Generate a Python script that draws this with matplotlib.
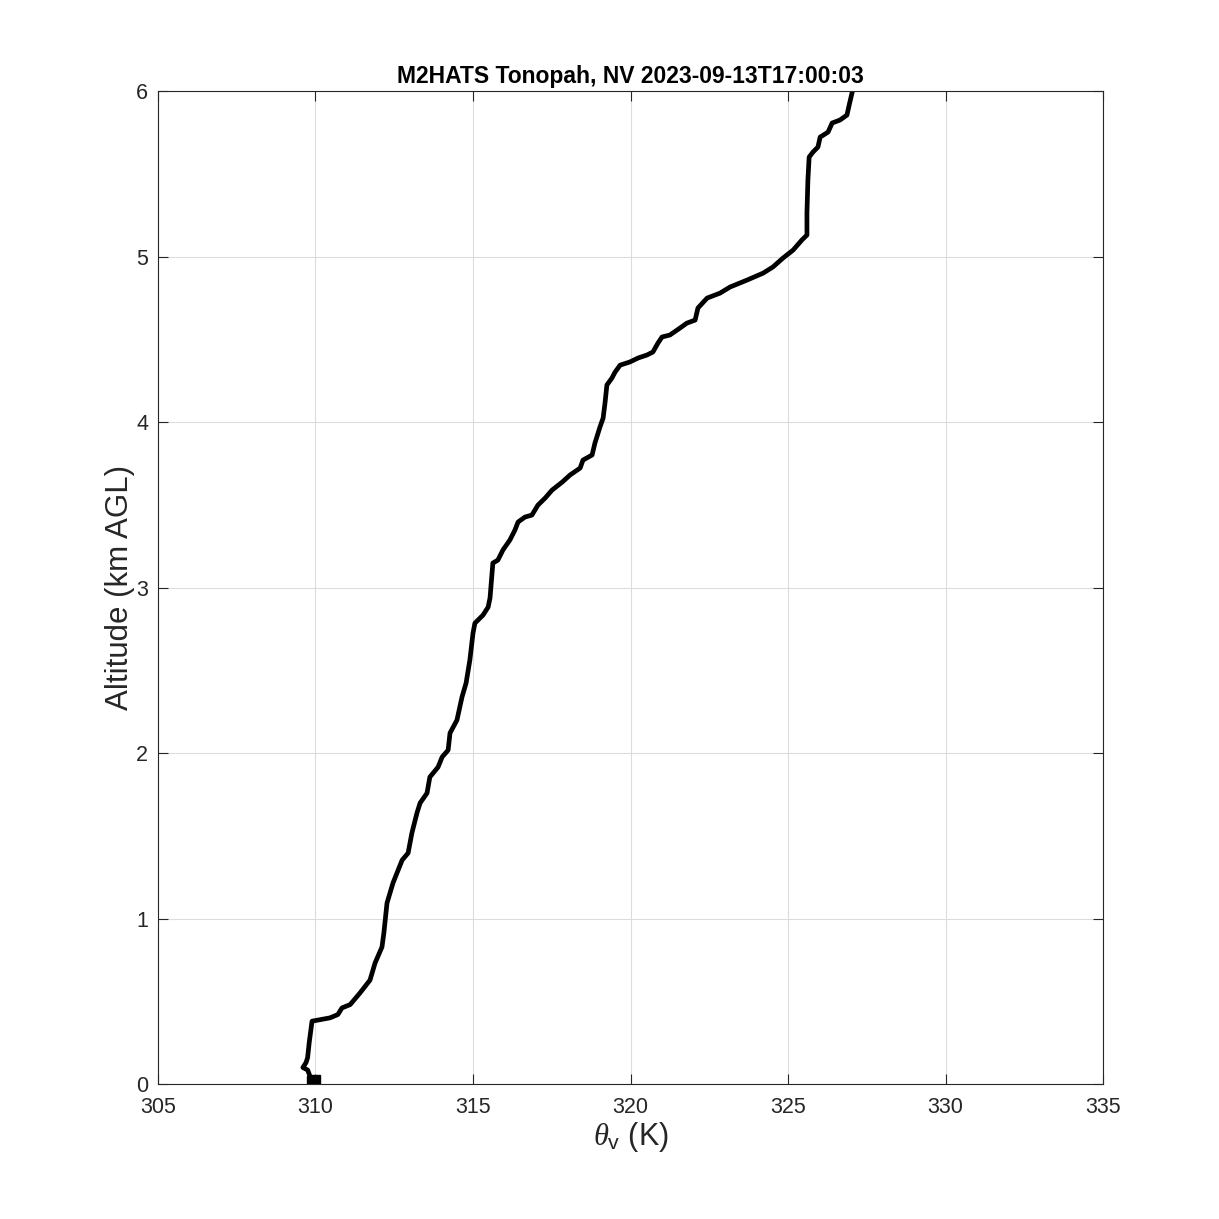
import matplotlib
matplotlib.use("Agg")
import matplotlib.pyplot as plt
import numpy as np

theta_v = [309.95, 309.85, 309.8, 309.75, 309.6, 309.7, 309.75, 309.8, 309.89, 310.46, 310.71, 310.84,
           311.10, 311.41, 311.73, 311.89, 312.11, 312.17, 312.27, 312.46, 312.75, 312.94, 313.06,
           313.22, 313.32, 313.54, 313.63, 313.89, 314.02, 314.21, 314.27, 314.49, 314.65, 314.78,
           314.90, 315.0, 315.06, 315.32, 315.48, 315.54, 315.63, 315.79, 315.95, 316.17, 316.33,
           316.43, 316.65, 316.87, 317.06, 317.29, 317.51, 317.83, 318.08, 318.40, 318.49, 318.78,
           318.87, 319.03, 319.13, 319.19, 319.25, 319.41, 319.51, 319.67, 319.98, 320.24, 320.52,
           320.71, 320.87, 321.0, 321.25, 321.57, 321.79, 322.05, 322.14, 322.43, 322.84, 323.16,
           323.70, 324.21, 324.52, 324.84, 325.16, 325.44, 325.60, 325.60, 325.63, 325.67, 325.79,
           325.95, 326.02, 326.27, 326.40, 326.65, 326.87, 326.94, 327.03, 327.06]
altitude = [0.0, 0.03, 0.06, 0.085, 0.10, 0.13, 0.16, 0.25, 0.38, 0.40, 0.42, 0.46,
            0.48, 0.55, 0.628, 0.731, 0.828, 0.912, 1.094, 1.215, 1.353, 1.396, 1.517,
            1.637, 1.698, 1.758, 1.855, 1.915, 1.976, 2.018, 2.121, 2.199, 2.338, 2.423,
            2.562, 2.725, 2.785, 2.834, 2.882, 2.937, 3.148, 3.166, 3.227, 3.287, 3.347,
            3.396, 3.426, 3.438, 3.498, 3.541, 3.589, 3.637, 3.680, 3.722, 3.770, 3.801,
            3.873, 3.970, 4.024, 4.115, 4.224, 4.266, 4.302, 4.344, 4.363, 4.387, 4.405,
            4.423, 4.477, 4.514, 4.526, 4.568, 4.598, 4.616, 4.689, 4.749, 4.779, 4.816,
            4.858, 4.900, 4.937, 4.991, 5.039, 5.100, 5.130, 5.263, 5.462, 5.601, 5.631,
            5.662, 5.722, 5.752, 5.807, 5.825, 5.855, 5.915, 5.988, 6.01]

base_x = [309.9, 310.0]
base_y = [0.02, 0.025]

x_ticks = [305, 310, 315, 320, 325, 330, 335]
y_ticks = [0, 1, 2, 3, 4, 5, 6]
title = "M2HATS Tonopah, NV 2023-09-13T17:00:03"

plt.rcParams['font.family'] = ['Liberation Sans', 'DejaVu Sans']
plt.rcParams['mathtext.fontset'] = 'custom'
plt.rcParams['mathtext.it'] = 'Liberation Serif:italic'
plt.rcParams['mathtext.rm'] = 'Liberation Sans'
plt.rcParams['mathtext.sf'] = 'Liberation Sans'

fig = plt.figure(figsize=(12.19, 12.19), dpi=100)
ax = fig.add_axes([0.1296, 0.1107, 0.9049 - 0.1296, 0.9253 - 0.1107])

ax.plot(theta_v, altitude, color='black', lw=3.4, solid_joinstyle='round', solid_capstyle='butt')
ax.plot(base_x, base_y, color='black', lw=0, marker='s', markersize=6.5)

ax.set_xlim(305, 335)
ax.set_ylim(0, 6)
ax.set_xticks(x_ticks)
ax.set_yticks(y_ticks)
ax.grid(True, color='#dcdcdc', lw=0.8)
ax.set_axisbelow(True)
axis_col = '#262626'
for s in ax.spines.values():
    s.set_color(axis_col)
    s.set_linewidth(0.8)
ax.tick_params(direction='in', length=7, width=0.8, top=True, right=True,
               colors=axis_col, labelsize=15.5)
ax.tick_params(axis='x', pad=9)
ax.tick_params(axis='y', pad=7)
for lab in ax.get_xticklabels() + ax.get_yticklabels():
    lab.set_color(axis_col)

ax.set_xlabel(r'$\mathit{\theta}_{\mathsf{v}}$ (K)', fontsize=22, color=axis_col, labelpad=2)
ax.set_ylabel('Altitude (km AGL)', fontsize=22.5, color=axis_col, labelpad=1)
ax.set_title(title, fontsize=16.5, fontweight='bold', color='black', pad=6)

fig.savefig('out.png', dpi=100)
